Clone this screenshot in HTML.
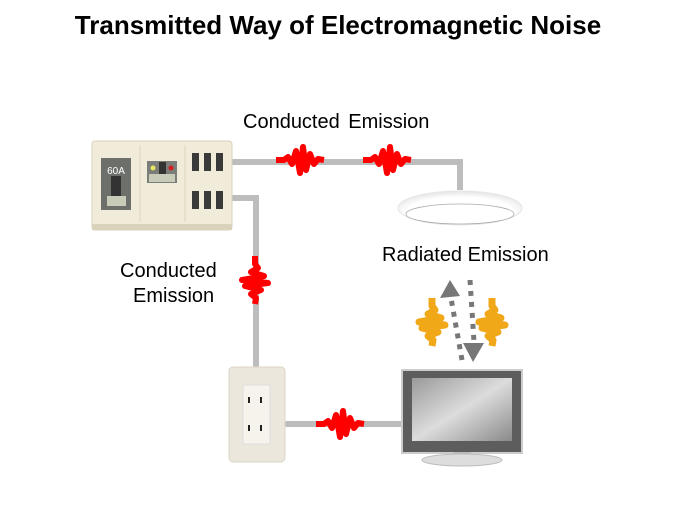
<!DOCTYPE html>
<html><head><meta charset="utf-8"><style>
html,body{margin:0;padding:0;background:#fff;}
svg{display:block;}
text{font-family:"Liberation Sans",Arial,sans-serif;}
</style></head><body>
<svg width="675" height="506" viewBox="0 0 675 506" xmlns="http://www.w3.org/2000/svg">
<defs>
<polyline id="w" points="-24,0 -16,0 -12,-3 -8,4 -4,-9 0,13 3,-13 6,10 10,-6 14,4 18,-1 24,0" fill="none" stroke="#f00" stroke-width="6" stroke-linejoin="round"/>
<polyline id="o" points="-24,0 -16,0 -12,-3 -8,4 -4,-9 0,13 3,-13 6,10 10,-6 14,4 18,-1 24,0" fill="none" stroke="#f0a818" stroke-width="7" stroke-linejoin="round"/>
<linearGradient id="scr" x1="0" y1="0" x2="1" y2="1"><stop offset="0" stop-color="#9a9a9a"/><stop offset="0.5" stop-color="#dcdcdc"/><stop offset="1" stop-color="#8a8a8a"/></linearGradient>
<radialGradient id="lamp" cx="0.5" cy="0.6" r="0.6"><stop offset="0.7" stop-color="#fff"/><stop offset="1" stop-color="#e4e4e4"/></radialGradient>
</defs>
<text x="338" y="34" text-anchor="middle" font-size="26" font-weight="bold">Transmitted Way of Electromagnetic Noise</text>
<text x="243" y="128" font-size="20" word-spacing="3">Conducted Emission</text>
<text x="382" y="261" font-size="20">Radiated Emission</text>
<text x="120" y="277" font-size="20">Conducted</text>
<text x="133" y="302" font-size="20">Emission</text>
<!-- wires -->
<g stroke="#bdbdbd" stroke-width="6" fill="none">
<polyline points="232,162 460,162 460,190"/>
<polyline points="232,198 256,198 256,368"/>
<line x1="285" y1="424" x2="402" y2="424"/>
</g>
<use href="#w" x="300" y="160"/>
<use href="#w" x="387" y="160"/>
<use href="#w" x="340" y="424"/>
<use href="#w" transform="translate(255,280) rotate(90)"/>
<!-- panel -->
<rect x="92" y="141" width="140" height="89" rx="3" fill="#f1ecd9" stroke="#d8d2bc"/>
<rect x="92" y="224" width="140" height="6" fill="#d9d3bd"/>
<line x1="140" y1="145" x2="140" y2="222" stroke="#ddd6c0"/>
<line x1="185" y1="145" x2="185" y2="222" stroke="#ddd6c0"/>
<rect x="101" y="158" width="30" height="52" fill="#6d6f6b"/>
<text x="116" y="174" font-size="10" fill="#fff" text-anchor="middle">60A</text>
<rect x="111" y="176" width="10" height="20" fill="#333"/>
<rect x="107" y="196" width="19" height="10" fill="#c8cbb8"/>
<rect x="147" y="161" width="30" height="22" fill="#7b7d79"/>
<rect x="149" y="174" width="26" height="8" fill="#c8cbb8"/>
<circle cx="153" cy="168" r="2.5" fill="#e8e860"/>
<circle cx="171" cy="168" r="2.5" fill="#d02020"/>
<rect x="159" y="162" width="7" height="12" fill="#333"/>
<g fill="#3a3a3a">
<rect x="192" y="153" width="7" height="18"/><rect x="204" y="153" width="7" height="18"/><rect x="216" y="153" width="7" height="18"/>
<rect x="192" y="191" width="7" height="18"/><rect x="204" y="191" width="7" height="18"/><rect x="216" y="191" width="7" height="18"/>
</g>
<!-- lamp -->
<ellipse cx="460" cy="208" rx="62" ry="17" fill="url(#lamp)" stroke="#e6e6e6"/>
<ellipse cx="460" cy="214" rx="54" ry="10" fill="#fff" stroke="#aaa" stroke-width="0.8"/>
<!-- outlet -->
<rect x="229" y="367" width="56" height="95" rx="4" fill="#ece7dd" stroke="#ddd6c8"/>
<rect x="243" y="385" width="27" height="59" fill="#f6f3ec" stroke="#ddd"/>
<g fill="#222"><rect x="248" y="397" width="2" height="6"/><rect x="260" y="397" width="2" height="6"/><rect x="248" y="425" width="2" height="6"/><rect x="260" y="425" width="2" height="6"/></g>
<!-- TV -->
<rect x="402" y="370" width="120" height="83" fill="#5d5d5d" stroke="#ccc" stroke-width="2"/>
<rect x="412" y="378" width="100" height="63" fill="url(#scr)"/>
<rect x="453" y="452" width="18" height="5" fill="#bbb"/>
<ellipse cx="462" cy="460" rx="40" ry="6" fill="#ddd" stroke="#bbb"/>
<!-- radiated -->
<use href="#o" transform="translate(432,322) rotate(90)"/>
<use href="#o" transform="translate(492,322) rotate(90)"/>
<line x1="462" y1="360" x2="451" y2="298" stroke="#777" stroke-width="5" stroke-dasharray="5,6"/>
<polygon points="450,280 440,298 460,296" fill="#777"/>
<line x1="470" y1="280" x2="474" y2="342" stroke="#777" stroke-width="5" stroke-dasharray="5,6"/>
<polygon points="473,362 463,343 484,343" fill="#777"/>
</svg>
</body></html>
